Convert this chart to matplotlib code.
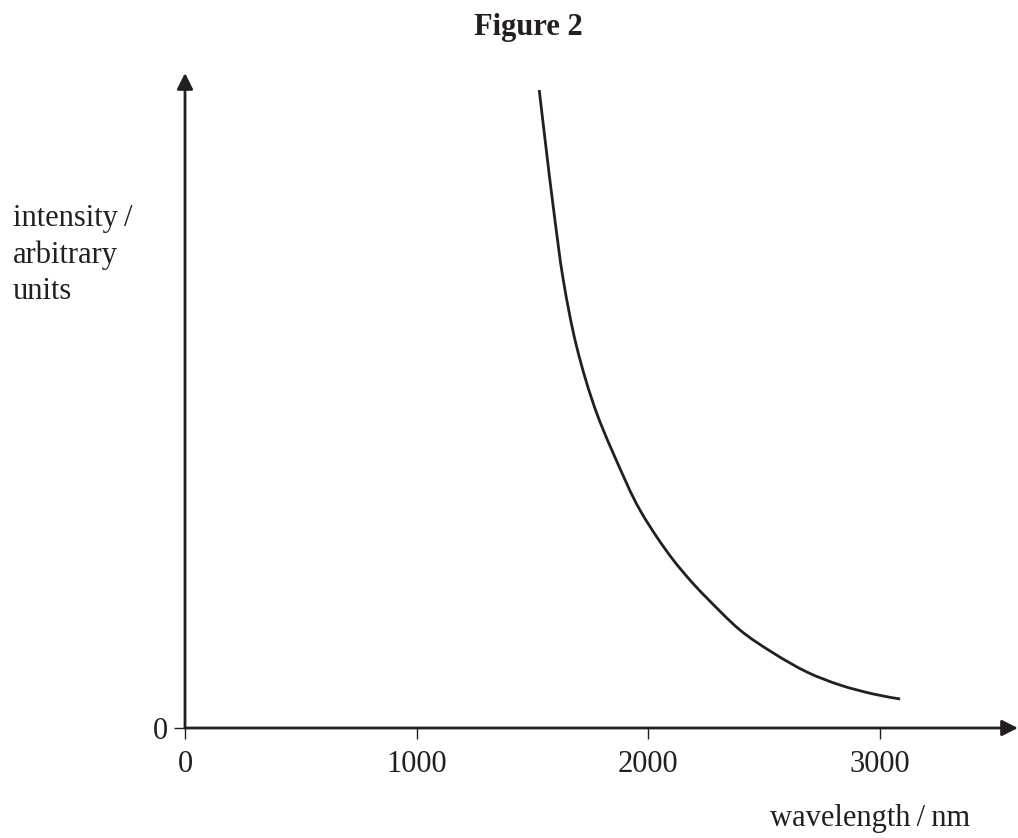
import numpy as np
import matplotlib
matplotlib.use("Agg")
import matplotlib.pyplot as plt
from matplotlib.path import Path
from matplotlib.patches import PathPatch

# Curve (wavelength in nm, intensity in arbitrary units)
wavelength = [1530, 1559, 1594, 1634, 1692, 1778, 1901, 1965, 2038, 2109,
              2181, 2254, 2397, 2541, 2686, 2829, 2973, 3089]
intensity = [638, 581, 515, 448, 381, 315, 248, 218, 191, 168,
             148, 130, 98, 75, 56, 43, 34, 29]

x_ticks = [0, 1000, 2000, 3000]
x_tick_labels = ["0", "1000", "2000", "3000"]

ink = "#231f20"
plt.rcParams['font.family'] = ['Liberation Serif', 'DejaVu Serif']

fig = plt.figure(figsize=(10.18, 8.38), dpi=100)
W, H = 1018, 838
# axes placed so that origin sits at pixel (185, 728)
ax = fig.add_axes([185 / W, 110 / H, 833 / W, 655 / H])
ax.set_xlim(0, 3598)
ax.set_ylim(0, 655)

for s in ax.spines.values():
    s.set_visible(False)

# axes with arrow heads
arrow = dict(arrowstyle='-|>', lw=2.0, color=ink, mutation_scale=24,
             shrinkA=0, shrinkB=0)
ax.annotate('', xy=(0, 655), xytext=(0, 0), arrowprops=arrow,
            annotation_clip=False)
ax.annotate('', xy=(3598, 0), xytext=(0, 0), arrowprops=arrow,
            annotation_clip=False)

# smooth curve through the read points (Catmull-Rom as cubic Bezier)
pts = np.column_stack([wavelength, intensity]).astype(float)
verts = [pts[0]]
codes = [Path.MOVETO]
for i in range(len(pts) - 1):
    p0 = pts[i - 1] if i > 0 else pts[i]
    p1, p2 = pts[i], pts[i + 1]
    p3 = pts[i + 2] if i + 2 < len(pts) else pts[i + 1]
    verts += [p1 + (p2 - p0) / 6, p2 - (p3 - p1) / 6, p2]
    codes += [Path.CURVE4] * 3
curve = PathPatch(Path(verts, codes), fill=False, edgecolor=ink, lw=2.0,
                  capstyle='butt', joinstyle='round', clip_on=False)
ax.add_patch(curve)

ax.set_xticks(x_ticks)
ax.set_xticklabels(x_tick_labels)
ax.set_yticks([0])
ax.set_yticklabels(["0"])
ax.tick_params(axis='both', direction='out', length=8, width=1.0,
               colors=ink, labelsize=22)
ax.tick_params(axis='x', pad=8)
ax.tick_params(axis='y', pad=4.5)

fig.text(528 / W, 1 - 28 / H, "Figure 2", ha='center', va='center',
         fontsize=22, fontweight='bold', color=ink)
fig.text(13 / W, 1 - 204 / H, "intensity\u2009/\narbitrary\nunits",
         ha='left', va='top', fontsize=22, color=ink, linespacing=1.32)
fig.text(970 / W, 1 - 826 / H, "wavelength\u2009/\u2009nm", ha='right',
         va='baseline', fontsize=22, color=ink)

fig.savefig("out.png", dpi=100)
